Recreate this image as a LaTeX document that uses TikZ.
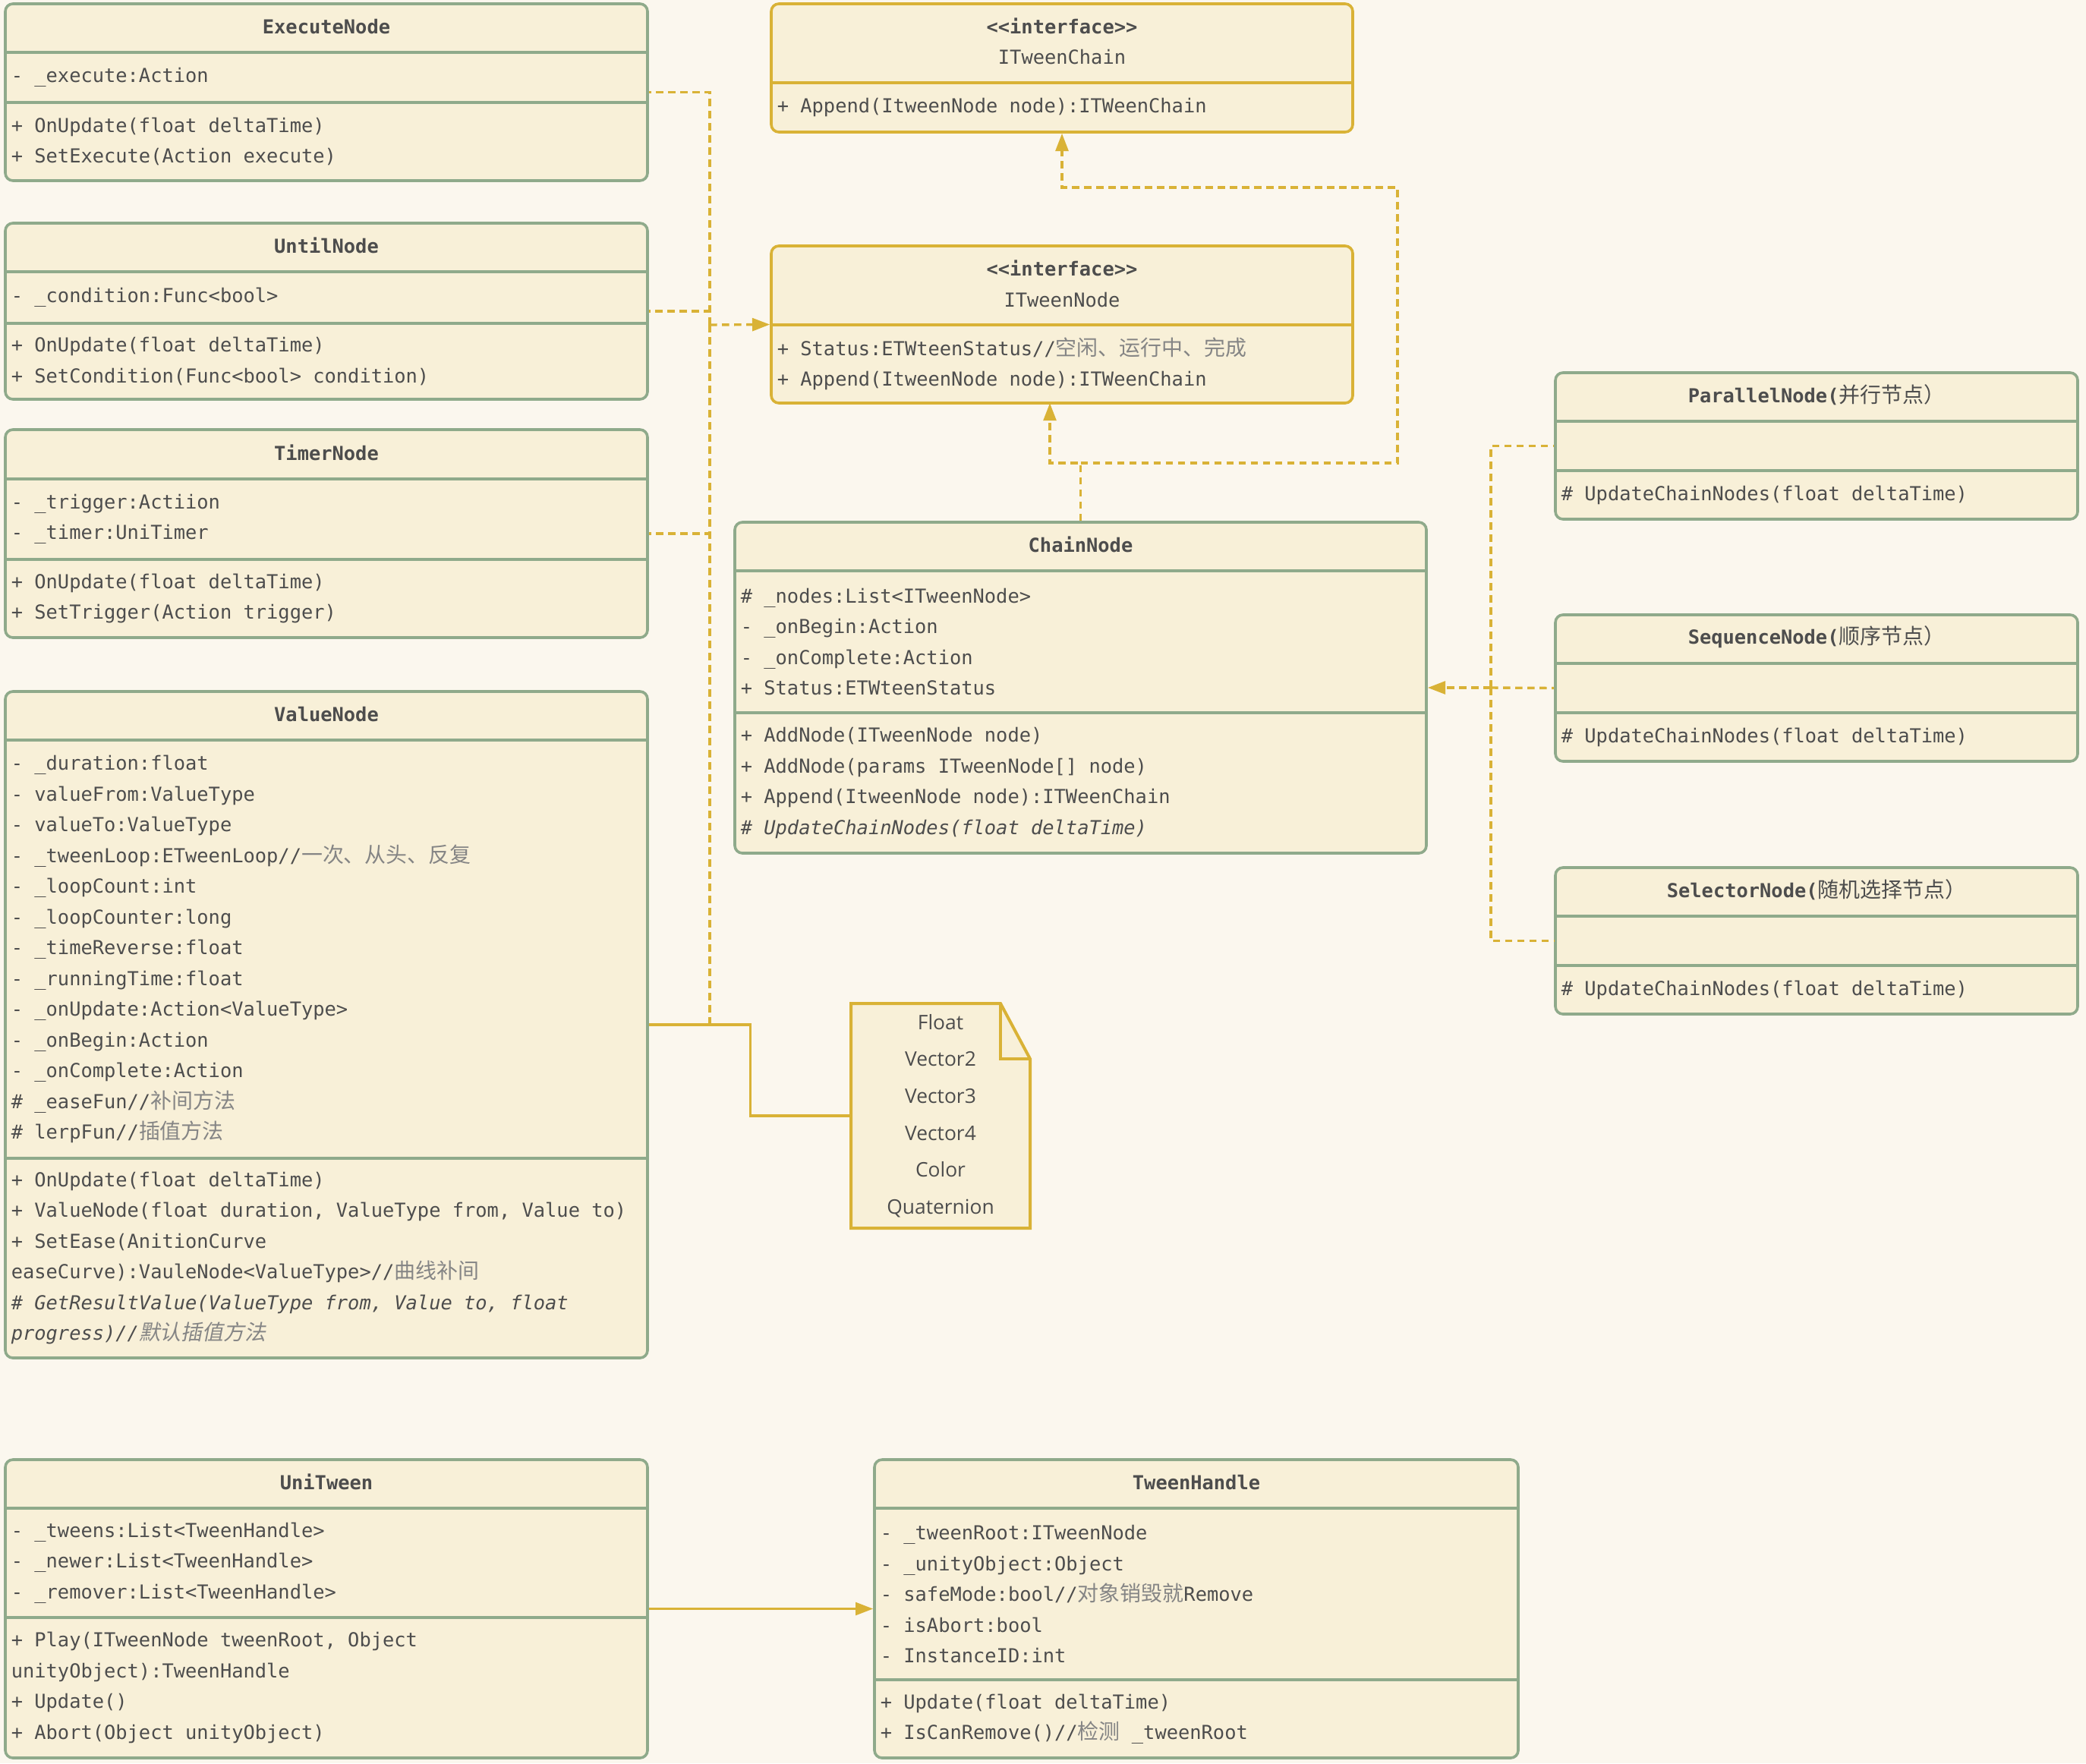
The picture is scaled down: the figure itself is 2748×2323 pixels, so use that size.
\documentclass[tikz,border=0pt]{standalone}
\usepackage{fontspec}
\setmonofont{DejaVu Sans Mono}
\newfontfamily\cnfont[Scale=1.1]{Noto Sans CJK SC}
\newfontfamily\cnslant[Scale=1.1,FakeSlant=0.2]{Noto Sans CJK SC}
\newfontfamily\notefont{Open Sans}
\usetikzlibrary{fit,arrows.meta}
\definecolor{bgcol}{HTML}{FBF7EE}
\definecolor{boxfill}{HTML}{F8F0D8}
\definecolor{sage}{HTML}{8FAA8B}
\definecolor{gold}{HTML}{D9B236}
\definecolor{ink}{HTML}{4D4D4D}
\definecolor{cngray}{HTML}{858585}
\newcommand\monosize{\fontsize{6.35}{10.125}\selectfont}
\newcommand\zh[1]{{\cnfont\color{cngray}#1}}
\newcommand\zhit[1]{{\cnslant\color{cngray}#1}}
\newcommand\zhhead[1]{{\mdseries\cnfont #1}}
\begin{document}
\begin{tikzpicture}[x=0.25pt,y=-0.25pt,text=ink,
  font=\ttfamily\monosize,
  >={Triangle[length=5.8pt,width=4.2pt]},
  cls/.style={draw=sage,fill=boxfill,line width=0.9pt,rounded corners=2.5pt,inner sep=0pt},
  iface/.style={cls,draw=gold},
  sep/.style={draw=sage,line width=0.9pt},
  isep/.style={sep,draw=gold},
  row/.style={anchor=west,align=left,inner sep=0pt},
  head/.style={align=center,inner sep=0pt,yshift=0.6pt,font=\ttfamily\bfseries\monosize},
  realize/.style={gold,line width=0.85pt,dash pattern=on 2.4pt off 1.6pt},
  assoc/.style={gold,line width=0.8pt}]
\fill[bgcol] (0,0) rectangle (2748,2323);
\useasboundingbox (0,0) rectangle (2748,2323);

% left column
\node[cls,fit={(7,5) (853,238)}] (exec) {};
\draw[sep] (7,69) -- (853,69);
\draw[sep] (7,135) -- (853,135);
\node[head] (exec-t) at (430,37) {ExecuteNode};
\node[row] (exec-a) at (14,102) {- \_execute:Action};
\node[row] (exec-m) at (14,186.5) {+ OnUpdate(float deltaTime)\\+ SetExecute(Action execute)};

\node[cls,fit={(7,294) (853,526)}] (until) {};
\draw[sep] (7,358) -- (853,358);
\draw[sep] (7,426) -- (853,426);
\node[head] (until-t) at (430,326) {UntilNode};
\node[row] (until-a) at (14,392) {- \_condition:Func<bool>};
\node[row] (until-m) at (14,476) {+ OnUpdate(float deltaTime)\\+ SetCondition(Func<bool> condition)};

\node[cls,fit={(7,566) (853,840)}] (timer) {};
\draw[sep] (7,631) -- (853,631);
\draw[sep] (7,737) -- (853,737);
\node[head] (timer-t) at (430,598.5) {TimerNode};
\node[row] (timer-a) at (14,684) {- \_trigger:Actiion\\- \_timer:UniTimer};
\node[row] (timer-m) at (14,788.5) {+ OnUpdate(float deltaTime)\\+ SetTrigger(Action trigger)};

\node[cls,fit={(7,911) (853,1789)}] (value) {};
\draw[sep] (7,975) -- (853,975);
\draw[sep] (7,1526) -- (853,1526);
\node[head] (value-t) at (430,943) {ValueNode};
\node[row] (value-a) at (14,1250.5) {- \_duration:float\\- valueFrom:ValueType\\- valueTo:ValueType\\
  - \_tweenLoop:ETweenLoop//\zh{一次、从头、反复}\\- \_loopCount:int\\- \_loopCounter:long\\
  - \_timeReverse:float\\- \_runningTime:float\\- \_onUpdate:Action<ValueType>\\- \_onBegin:Action\\
  - \_onComplete:Action\\\# \_easeFun//\zh{补间方法}\\\# lerpFun//\zh{插值方法}};
\node[row] (value-m) at (14,1657.5) {+ OnUpdate(float deltaTime)\\+ ValueNode(float duration, ValueType from, Value to)\\
  + SetEase(AnitionCurve\\easeCurve):VauleNode<ValueType>//\zh{曲线补间}\\
  {\itshape \# GetResultValue(ValueType from, Value to, float}\\{\itshape progress)//\zhit{默认插值方法}}};

\node[cls,fit={(7,1923) (853,2316)}] (unitween) {};
\draw[sep] (7,1987) -- (853,1987);
\draw[sep] (7,2131) -- (853,2131);
\node[head] (unitween-t) at (430,1955) {UniTween};
\node[row] (unitween-a) at (14,2059) {- \_tweens:List<TweenHandle>\\- \_newer:List<TweenHandle>\\- \_remover:List<TweenHandle>};
\node[row] (unitween-m) at (14,2223.5) {+ Play(ITweenNode tweenRoot, Object\\unityObject):TweenHandle\\+ Update()\\+ Abort(Object unityObject)};

\node[cls,fit={(1152,1923) (2000,2316)}] (handle) {};
\draw[sep] (1152,1987) -- (2000,1987);
\draw[sep] (1152,2213) -- (2000,2213);
\node[head] (handle-t) at (1576,1955) {TweenHandle};
\node[row] (handle-a) at (1159,2100) {- \_tweenRoot:ITweenNode\\- \_unityObject:Object\\- safeMode:bool//\zh{对象销毁就}Remove\\- isAbort:bool\\- InstanceID:int};
\node[row] (handle-m) at (1159,2264.5) {+ Update(float deltaTime)\\+ IsCanRemove()//\zh{检测} \_tweenRoot};

% interfaces
\node[iface,fit={(1016,5) (1782,174)}] (itchain) {};
\draw[isep] (1016,109) -- (1782,109);
\node[head] (itchain-t) at (1399,57) {<<interface>>\\\mdseries ITweenChain};
\node[row] (itchain-m) at (1023,141.5) {+ Append(ItweenNode node):ITWeenChain};

\node[iface,fit={(1016,324) (1782,531)}] (itnode) {};
\draw[isep] (1016,428) -- (1782,428);
\node[head] (itnode-t) at (1399,376) {<<interface>>\\\mdseries ITweenNode};
\node[row] (itnode-a) at (1023,479.5) {+ Status:ETWteenStatus//\zh{空闲、运行中、完成}\\+ Append(ItweenNode node):ITWeenChain};

\node[cls,fit={(968,688) (1879,1124)}] (chain) {};
\draw[sep] (968,752) -- (1879,752);
\draw[sep] (968,939) -- (1879,939);
\node[head] (chain-t) at (1423.5,720) {ChainNode};
\node[row] (chain-a) at (975,845.5) {\# \_nodes:List<ITweenNode>\\- \_onBegin:Action\\- \_onComplete:Action\\+ Status:ETWteenStatus};
\node[row] (chain-m) at (975,1031.5) {+ AddNode(ITweenNode node)\\+ AddNode(params ITweenNode[] node)\\+ Append(ItweenNode node):ITWeenChain\\{\itshape \# UpdateChainNodes(float deltaTime)}};

% right column
\node[cls,fit={(2049,491) (2737,684)}] (parallel) {};
\draw[sep] (2049,555) -- (2737,555);
\draw[sep] (2049,620) -- (2737,620);
\node[head] (parallel-t) at (2393,523) {ParallelNode(\zhhead{并行节点）}};
\node[row] (parallel-m) at (2056,652) {\# UpdateChainNodes(float deltaTime)};

\node[cls,fit={(2049,810) (2737,1003)}] (sequence) {};
\draw[sep] (2049,874) -- (2737,874);
\draw[sep] (2049,939) -- (2737,939);
\node[head] (sequence-t) at (2393,842) {SequenceNode(\zhhead{顺序节点）}};
\node[row] (sequence-m) at (2056,971) {\# UpdateChainNodes(float deltaTime)};

\node[cls,fit={(2049,1143) (2737,1336)}] (selector) {};
\draw[sep] (2049,1207) -- (2737,1207);
\draw[sep] (2049,1272) -- (2737,1272);
\node[head] (selector-t) at (2393,1175) {SelectorNode(\zhhead{随机选择节点）}};
\node[row] (selector-m) at (2056,1304) {\# UpdateChainNodes(float deltaTime)};

% note
\node[fit={(1121,1322) (1357,1618)},inner sep=0pt] (note) {};
\draw[gold,fill=boxfill,line width=1pt] (1121,1322) -- (1318,1322) -- (1357,1395) -- (1357,1618) -- (1121,1618) -- cycle;
\draw[gold,line width=1pt] (1318,1322) -- (1318,1395) -- (1357,1395);
\node[align=center,inner sep=0pt,font=\notefont\fontsize{6.6}{12.15}\selectfont] (note-t) at (note.center) {Float\\Vector2\\Vector3\\Vector4\\Color\\Quaternion};

% connectors
\coordinate (bus) at (935,428);
\draw[realize] (bus) |- (exec.east);
\draw[realize] (bus) |- (until.east);
\draw[realize] (bus) |- (timer.east);
\draw[realize] (bus) |- (value.east);
\draw[realize,->] (bus) -- (itnode.west);
\draw[assoc] (value.east) -- ++(134,0) |- (note.west);

\coordinate (split) at (1423.5,610);
\coordinate (turn) at (1841,247);
\draw[realize,->] (chain.north) -- (split) -| (1383,531);
\draw[realize,->] (split) -| (turn) -| (itchain.south);

\coordinate (bus2) at (1964,906);
\draw[realize] (bus2) |- (parallel.west);
\draw[realize] (bus2) -- (sequence.west);
\draw[realize] (bus2) |- (selector.west);
\draw[realize,->] (bus2) -- (chain.east);

\draw[assoc,->] (unitween.east) -- (handle.west);
\end{tikzpicture}
\end{document}
